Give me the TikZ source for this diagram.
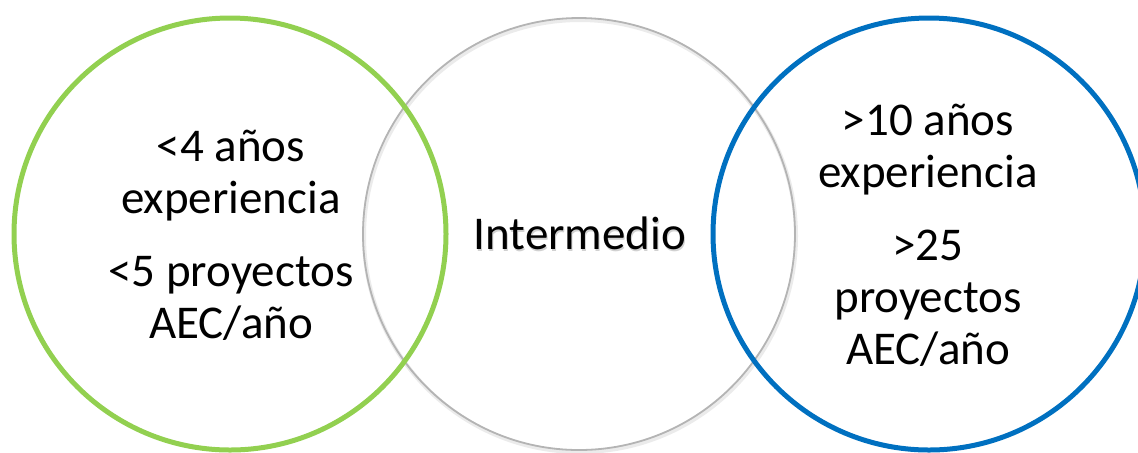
\documentclass[tikz,border=0pt]{standalone}
\usepackage{fontspec}
\setmainfont{Carlito}
\usepackage{xcolor}
\usepackage{tikz}
\usetikzlibrary{shapes, positioning}
\definecolor{lowgreen}{HTML}{92D050}
\definecolor{highblue}{HTML}{0070C0}
\definecolor{midgray}{HTML}{B4B4B4}
\tikzset{
  levelcircle/.style={draw, circle, minimum size=216pt, inner sep=0pt},
  lowcircle/.style={levelcircle, draw=lowgreen, line width=2.5pt},
  midcircle/.style={levelcircle, draw=midgray, line width=0.9pt},
  highcircle/.style={levelcircle, draw=highblue, line width=2.5pt},
  leveltext/.style={align=center, anchor=base, inner sep=0pt, font=\fontsize{23.5}{26}\selectfont}
}

\begin{document}
\begin{tikzpicture}[x=0.5pt, y=-0.5pt]
\useasboundingbox (0,0) rectangle (1138,452);

% Circles
\node[levelcircle, draw=black!8, line width=2pt] (MS) at (580,236) {};
\node[midcircle] (M) at (579,234) {};
\node[lowcircle] (L) at (230,234) {};
\node[highcircle] (H) at (929,234) {};

% Texts (base = last line)
\node[leveltext] (LT) at (231,338) {<4 años\\experiencia\\[10.5pt]<5 proyectos\\AEC/año};
\node[leveltext, text=black!18] (MTS) at (581,251.5) {Intermedio};
\node[leveltext] (MT) at (580,249) {Intermedio};
\node[leveltext] (HT) at (928,364) {>10 años\\experiencia\\[10.5pt]>25\\proyectos\\AEC/año};

\end{tikzpicture}
\end{document}
